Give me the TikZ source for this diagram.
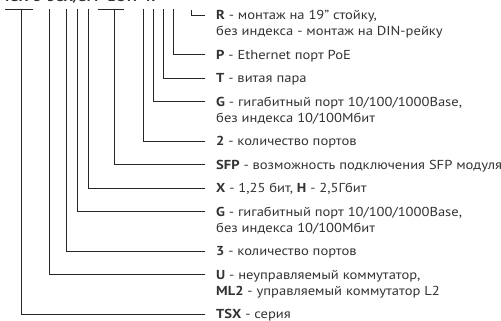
\documentclass[tikz,border=0pt]{standalone}
\usepackage{fontspec}
\setmainfont{PT Sans}[FakeStretch=1.12]
\definecolor{txtgray}{HTML}{333333}
\tikzstyle{lead}=[draw=black!85,line width=0.8pt]
\tikzstyle{descr}=[anchor=west,inner xsep=11pt,inner ysep=0pt,
                   text height=9.1pt,text depth=0pt,text=txtgray,
                   font=\fontsize{13}{16}\selectfont]
\begin{document}
\begin{tikzpicture}[x=1pt,y=-1pt]
    \useasboundingbox (0,0) rectangle (501,321);
    \node (title) [anchor=base west,inner sep=0pt,text=txtgray,
      font=\bfseries\fontsize{13}{16}\selectfont] at (3,2) {TSX-U-3GX/SFP-2GTP-R};
    % labels, top to bottom
    \node (r)    [descr] at (205, 15.0) {\textbf{R} - монтаж на 19\char"22{} стойку,};
    \node (r2)   [descr] at (205, 31.0) {без индекса - монтаж на DIN-рейку};
    \node (p)    [descr] at (205, 54.5) {\textbf{P} - Ethernet порт PoE};
    \node (t)    [descr] at (205, 78.0) {\textbf{T} - витая пара};
    \node (g1)   [descr] at (205,101.5) {\textbf{G} - гигабитный порт 10/100/1000Base,};
    \node (g1b)  [descr] at (205,117.5) {без индекса 10/100Мбит};
    \node (n2)   [descr] at (205,141.0) {\textbf{2} - количество портов};
    \node (sfp)  [descr] at (205,164.5) {\textbf{SFP} - возможность подключения SFP модуля};
    \node (xh)   [descr] at (205,188.0) {\textbf{X} - 1,25 бит, \textbf{H} - 2,5Гбит};
    \node (g2)   [descr] at (205,211.5) {\textbf{G} - гигабитный порт 10/100/1000Base,};
    \node (g2b)  [descr] at (205,227.5) {без индекса 10/100Мбит};
    \node (n3)   [descr] at (205,251.0) {\textbf{3} - количество портов};
    \node (u)    [descr] at (205,274.5) {\textbf{U} - неуправляемый коммутатор,};
    \node (u2)   [descr] at (205,290.5) {\textbf{ML2} - управляемый коммутатор L2};
    \node (tsx)  [descr] at (205,314.0) {\textbf{TSX} - серия};
    % brackets over the letter groups
    \draw[lead] (5,9) -- (33,9);
    \draw[lead] (98,9) -- (124,9);
    % leaders
    \draw[lead] (191,10) |- (r.west);
    \draw[lead] (173,9) |- (p.west);
    \draw[lead] (163,9) |- (t.west);
    \draw[lead] (153,9) |- (g1.west);
    \draw[lead] (143,9) |- (n2.west);
    \draw[lead] (114,9) |- (sfp.west);
    \draw[lead] (88,9) |- (xh.west);
    \draw[lead] (77,9) |- (g2.west);
    \draw[lead] (66,9) |- (n3.west);
    \draw[lead] (49,9) |- (u.west);
    \draw[lead] (21,9) |- (tsx.west);
\end{tikzpicture}
\end{document}
